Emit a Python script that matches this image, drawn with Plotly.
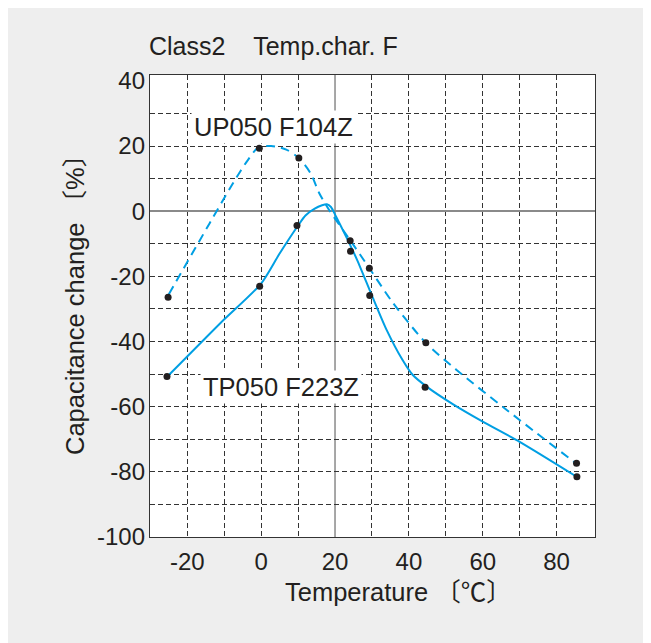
import plotly.graph_objects as go

# ---- data ----
# measured points (black dots)
up_pts_temp = [-25.2, -0.5, 10.2, 24.1, 29.3, 44.6, 85.4]
up_pts_cap = [-26.4, 19.3, 16.3, -9.1, -17.5, -40.4, -77.4]
tp_pts_temp = [-25.5, -0.4, 9.7, 24.2, 29.4, 44.4, 85.5]
tp_pts_cap = [-50.7, -23.0, -4.4, -12.3, -25.9, -54.0, -81.5]

# fitted curves
up_curve_temp = [-25, -13.9, -6.6, -3.6, -0.9, 2.7, 6.8, 10.2, 13.4, 15.7, 18.5, 24.1, 29.3, 35.8, 44.6, 53, 66.5, 85]
up_curve_cap = [-25.5, -3.6, 10.5, 15.7, 19.4, 20.0, 18.9, 16.3, 11.6, 5.6, 0.2, -8.9, -17.5, -28.3, -40.4, -48.8, -61.0, -77.2]
tp_curve_temp = [-25, -11, 0, 5, 10, 12, 14.5, 16.5, 17.8, 18.9, 20.3, 23, 26, 30, 34, 38.3, 41, 45, 52, 60, 70, 85]
tp_curve_cap = [-50.3, -34.3, -22.2, -13.0, -4.4, -1.3, 0.8, 1.8, 2.1, 1.3, -1.7, -7.8, -15.0, -25.9, -36.5, -45.7, -50.2, -54.0, -59.3, -64.6, -70.8, -81.2]

# axes
x_ticks = [-20, 0, 20, 40, 60, 80]
x_tick_labels = ["-20", "0", "20", "40", "60", "80"]
y_ticks = [-100, -80, -60, -40, -20, 0, 20, 40]
y_tick_labels = ["-100", "-80", "-60", "-40", "-20", "0", "20", "40"]
x_grid = [-20, -10, 0, 10, 30, 40, 50, 60, 70, 80]
y_grid = [-90, -80, -70, -60, -50, -40, -30, -20, -10, 10, 20, 30]
x_range = [-30.1, 90.4]
y_range = [-100, 41.8]

title_text = "Class2\u00a0\u00a0\u00a0\u00a0Temp.char. F"
x_title = "Temperature 〔℃〕"
y_title = "Capacitance change 〔%〕"
up_label = "UP050 F104Z"
tp_label = "TP050 F223Z"

BLUE = "#009fe3"
INK = "#231f20"
FONT = "Liberation Sans, Arial, Noto Sans CJK JP, sans-serif"

fig = go.Figure()
fig.add_trace(go.Scatter(x=up_curve_temp, y=up_curve_cap, mode="lines",
                         line=dict(color=BLUE, width=2, dash="9px,6px", shape="spline", smoothing=0.8),
                         hoverinfo="skip", showlegend=False))
fig.add_trace(go.Scatter(x=tp_curve_temp, y=tp_curve_cap, mode="lines",
                         line=dict(color=BLUE, width=2, shape="spline", smoothing=0.7),
                         hoverinfo="skip", showlegend=False))
fig.add_trace(go.Scatter(x=up_pts_temp, y=up_pts_cap, mode="markers", xaxis="x2", yaxis="y2",
                         marker=dict(color=INK, size=7), showlegend=False))
fig.add_trace(go.Scatter(x=tp_pts_temp, y=tp_pts_cap, mode="markers", xaxis="x2", yaxis="y2",
                         marker=dict(color=INK, size=7), showlegend=False))

W, H = 651, 643
OFF = 8  # page body margin
# plot box in page pixels
PL, PR, PT, PB = 150, 595, 75, 537
L, T = PL - OFF, PT - OFF
R, B = W - (PR - OFF), H - (PB - OFF)
pw, ph = W - L - R, H - T - B

def px_x(p):
    return (p - OFF - L) / pw

def px_y(p):
    return (H - B - (p - OFF)) / ph

grid_common = dict(showgrid=True, gridcolor="#333333", gridwidth=1, griddash="5px,3px",
                   showticklabels=False, ticks="", showline=True, mirror=True,
                   linecolor="#333333", linewidth=1.3)

fig.update_layout(
    width=W, height=H,
    margin=dict(l=L, r=R, t=T, b=B, pad=0),
    paper_bgcolor="#eeeeee", plot_bgcolor="white",
    font=dict(family=FONT, size=24, color=INK),
    xaxis=dict(range=x_range, tickmode="array", tickvals=x_grid, zeroline=False, **grid_common),
    yaxis=dict(range=y_range, tickmode="array", tickvals=y_grid, zeroline=True,
               zerolinecolor="#8a8a8a", zerolinewidth=1.5, **grid_common),
    xaxis2=dict(overlaying="x", anchor="y2", side="bottom", range=x_range, tickmode="array",
                tickvals=x_ticks, ticktext=x_tick_labels, showgrid=False, zeroline=False,
                showline=False, ticks="", tickfont=dict(size=24, color=INK), ticklabelstandoff=8),
    yaxis2=dict(overlaying="y", anchor="x2", side="left", range=y_range, tickmode="array",
                tickvals=y_ticks, ticktext=y_tick_labels, showgrid=False, zeroline=False,
                showline=False, ticks="", tickfont=dict(size=24, color=INK), ticklabelstandoff=4),
    shapes=[
        dict(type="line", xref="x", yref="paper", x0=20, x1=20, y0=0, y1=1,
             line=dict(color="#8a8a8a", width=1.5), layer="between"),
    ],
    annotations=[
        dict(text=title_text, xref="paper", yref="paper", x=px_x(147), y=px_y(46),
             xanchor="left", yanchor="middle", showarrow=False, font=dict(size=25, color=INK)),
        dict(text=x_title, xref="paper", yref="paper", x=px_x(398), y=px_y(592),
             xanchor="center", yanchor="middle", showarrow=False, font=dict(size=25.5, color=INK)),
        dict(text=y_title, xref="paper", yref="paper", x=px_x(75), y=px_y(299),
             xanchor="center", yanchor="middle", textangle=-90, showarrow=False,
             font=dict(size=25.5, color=INK)),
        dict(text=up_label, xref="x", yref="y", x=3.47, y=25.8, showarrow=False,
             bgcolor="white", borderpad=2, font=dict(size=25.5, color=INK)),
        dict(text=tp_label, xref="x", yref="y", x=5.4, y=-54.0, showarrow=False,
             bgcolor="white", borderpad=2, font=dict(size=25.5, color=INK)),
    ],
)

fig.write_html("out.html")
